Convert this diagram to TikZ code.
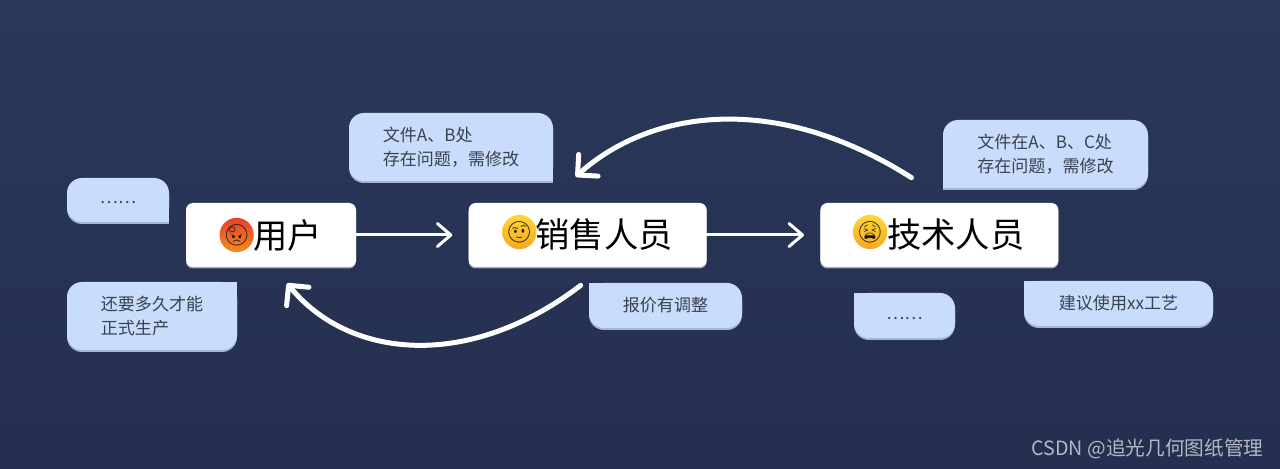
\documentclass[tikz,border=0pt]{standalone}
\usepackage{fontspec}
\setmainfont{Noto Sans CJK SC}
\newfontfamily\emojifont{Noto Emoji}
\usetikzlibrary{arrows.meta,positioning,shadows}
\definecolor{nightblue}{HTML}{2A3859}
\definecolor{nightlow}{HTML}{252F50}
\definecolor{bubblefill}{HTML}{CADCFC}
\definecolor{bubbleedge}{HTML}{A3B5D8}
\definecolor{bubbletext}{HTML}{3A4150}
\definecolor{marktext}{HTML}{B4B8C2}
\definecolor{angrytop}{HTML}{E8402A}
\definecolor{angrylow}{HTML}{F58A1F}
\definecolor{yellowtop}{HTML}{FDD835}
\definecolor{yellowlow}{HTML}{F7A823}

\begin{document}
\begin{tikzpicture}[
            rolebox/.style={
                    fill=white, rounded corners=.14cm, align=center,
                    minimum height=1.28cm, inner sep=0pt, text=black,
                    font=\fontsize{19.5pt}{22pt}\selectfont,
                    drop shadow={shadow xshift=0pt, shadow yshift=-.03cm, opacity=1, fill=black!35}
                },
            face/.style={
                    circle, inner sep=0pt, minimum size=.64cm,
                    font=\fontsize{12pt}{12pt}\emojifont, text=black!90
                },
            bubble/.style={
                    fill=bubblefill, rounded corners=.3cm, align=left,
                    inner sep=0pt, text=bubbletext,
                    font=\fontsize{9.7pt}{14pt}\selectfont,
                    drop shadow={shadow xshift=0pt, shadow yshift=-.04cm, opacity=1, fill=bubbleedge}
                },
            flatarr/.style={-{Straight Barb[round,length=.27cm,width=.46cm]}, line width=.06cm, white, line cap=round, shorten >=.32cm},
            curvearr/.style={-{Straight Barb[round,length=.29cm,width=.58cm]}, line width=.1cm, white, line cap=round}
            ]
            % background
            \fill[top color=nightblue, bottom color=nightlow] (0,0) rectangle (25.6,9.38);

            \node[rolebox, minimum width=3.4cm] (user) at (5.42,4.68)
            {\hspace{.66cm}用户};
            \node[rolebox, minimum width=4.76cm, right=2.24cm of user] (sales)
            {\hspace{.66cm}销售人员};
            \node[rolebox, minimum width=4.76cm, right=2.26cm of sales] (tech)
            {\hspace{.66cm}技术人员};

            % faces
            \node[face, top color=angrytop, bottom color=angrylow] (userface) at ([xshift=1.02cm]user.west) {\symbol{"1F621}};
            \node[face, top color=yellowtop, bottom color=yellowlow] (salesface) at ([xshift=1.02cm,yshift=.06cm]sales.west) {\symbol{"1F928}};
            \node[face, top color=yellowtop, bottom color=yellowlow] (techface) at ([xshift=1cm,yshift=.06cm]tech.west) {\symbol{"1F62B}};

            % what each one says
            \node[bubble, minimum width=2.04cm, minimum height=.88cm] (userdots) at (2.36,5.38) {\raisebox{-.45em}{……}};
            \node[bubble, minimum width=3.4cm, minimum height=1.36cm] (userask) at (3.04,3.06)
            {还要多久才能\\正式生产};
            \node[bubble, minimum width=4.08cm, minimum height=1.36cm] (salesfile) at (9.02,6.44)
            {文件A、B处\\存在问题，需修改};
            \node[bubble, minimum width=3.06cm, minimum height=.9cm] (salesprice) at (13.31,3.27) {报价有调整};
            \node[bubble, minimum width=4.1cm, minimum height=1.36cm] (techfile) at (20.91,6.3)
            {文件在A、B、C处\\存在问题，需修改};
            \node[bubble, minimum width=2.02cm, minimum height=.9cm] (techdots) at (18.09,3.07) {\raisebox{-.45em}{……}};
            \node[bubble, minimum width=3.78cm, minimum height=.9cm] (techadvice) at (22.37,3.31) {建议使用xx工艺};

            % square corners of the bubbles
            \foreach \name/\corner/\dx in {userdots/south east/-1, salesfile/south east/-1, techfile/south west/1}
            \fill[bubbleedge] ([yshift=-.04cm]\name.\corner) rectangle ++(\dx*.3,.3);
            \foreach \name/\corner/\dx/\dy in {userdots/south east/-1/1, salesfile/south east/-1/1, techfile/south west/1/1,
                    userask/north east/-1/-1, salesprice/north west/1/-1, techdots/north west/1/-1, techadvice/north west/1/-1}
            \fill[bubblefill] (\name.\corner) rectangle ++(\dx*.3,\dy*.3);

            \node[text=marktext, font=\fontsize{11.2pt}{13pt}\selectfont, anchor=east, inner sep=0pt] (mark) at (25.28,.4)
            {CSDN @追光几何图纸管理};

            \draw[flatarr] (user) -- (sales);
            \draw[flatarr] (sales) -- (tech);
            \draw[curvearr] ([shift={(-.56,.5)}]tech.north) .. controls (15.5,7.56) and (13,7.18) .. ([shift={(-.24,.52)}]sales.north);
            \draw[curvearr] ([shift={(-.14,-.36)}]sales.south) .. controls (9.4,1.98) and (7,2.18) .. ([shift={(.32,-.32)}]user.south);
        \end{tikzpicture}
\end{document}
